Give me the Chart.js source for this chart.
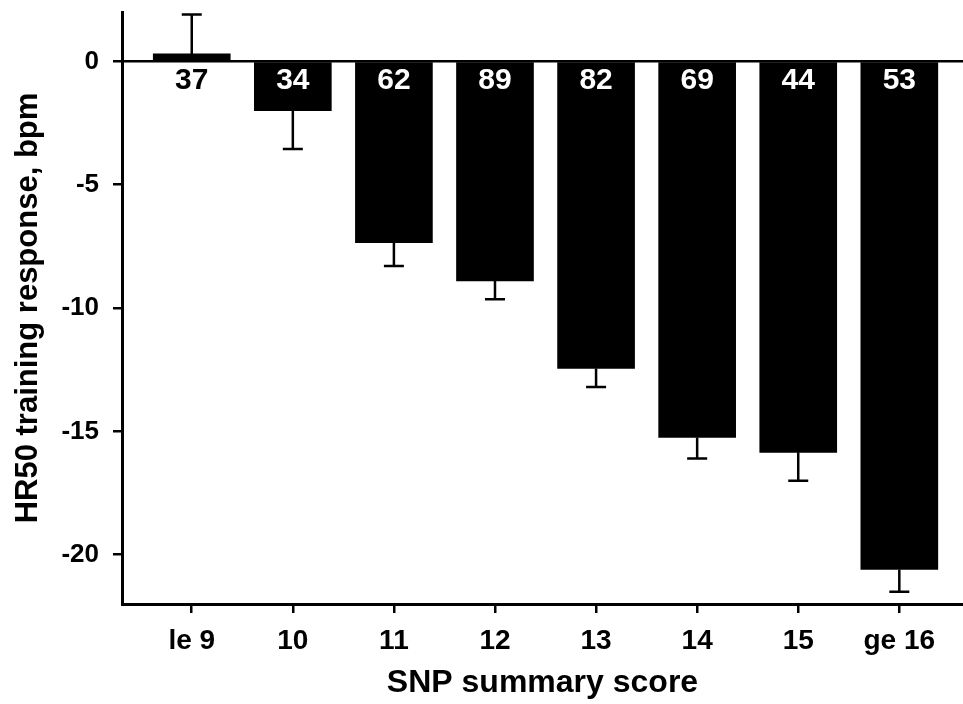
<!DOCTYPE html>
<html>
<head>
<meta charset="utf-8">
<script src="https://cdn.jsdelivr.net/npm/chart.js@4/dist/chart.umd.min.js"></script>
<style>
  html, body { margin: 0; padding: 0; background: #fff; }
  #wrap { width: 963px; height: 704px; position: relative; }
</style>
</head>
<body>
<div id="wrap"><canvas id="chart"></canvas></div>
<script>
// SNP summary score groups
const CATEGORIES = ['le 9', '10', '11', '12', '13', '14', '15', 'ge 16'];
// mean HR50 training response (bpm)
const MEANS = [0.3, -2.0, -7.35, -8.9, -12.45, -15.25, -15.85, -20.6];
// end of the one-sided error bar (mean +/- SE), in bpm
const ERR_ENDS = [1.9, -3.55, -8.3, -9.65, -13.2, -16.1, -17.0, -21.5];
// group sizes printed under the zero line
const COUNTS = [37, 34, 62, 89, 82, 69, 44, 53];
const Y_TICKS = [-20, -15, -10, -5, 0];

const FONT = '"Liberation Sans", Arial, sans-serif';

// one-sided error bars, drawn through the chart's scales
const errorBars = {
  id: 'errorBars',
  afterDatasetsDraw(chart) {
    const { ctx, scales: { x, y } } = chart;
    ctx.save();
    ctx.strokeStyle = '#000';
    ctx.lineWidth = 2.5;
    MEANS.forEach((m, i) => {
      const px = x.getPixelForValue(i);
      const y0 = y.getPixelForValue(m);
      const y1 = y.getPixelForValue(ERR_ENDS[i]);
      ctx.beginPath();
      ctx.moveTo(px, y0);
      ctx.lineTo(px, y1);
      ctx.moveTo(px - 10, y1);
      ctx.lineTo(px + 10, y1);
      ctx.stroke();
    });
    ctx.restore();
  }
};

// n labels just below zero: white on the dark bars, black where the bar is above zero
const countLabels = {
  id: 'countLabels',
  afterDatasetsDraw(chart) {
    const { ctx, scales: { x, y } } = chart;
    const base = y.getPixelForValue(0);
    ctx.save();
    ctx.font = 'bold 30px ' + FONT;
    ctx.textAlign = 'center';
    ctx.textBaseline = 'middle';
    COUNTS.forEach((n, i) => {
      ctx.fillStyle = MEANS[i] < 0 ? '#fff' : '#000';
      ctx.fillText(String(n), x.getPixelForValue(i), base + 19);
    });
    ctx.restore();
  }
};

new Chart(document.getElementById('chart'), {
  type: 'bar',
  data: {
    datasets: [{
      data: MEANS.map((v, i) => ({ x: i, y: v })),
      backgroundColor: '#000',
      borderWidth: 0,
      barThickness: 77,
    }],
  },
  options: {
    responsive: true, maintainAspectRatio: false, animation: false,
    layout: { padding: { top: 12, right: 0, left: 0, bottom: 0 } },
    plugins: { legend: { display: false }, tooltip: { enabled: false } },
    scales: {
      x: {
        type: 'linear', offset: false, min: -0.69, max: 7.63,
        afterBuildTicks: s => { s.ticks = CATEGORIES.map((c, i) => ({ value: i })); },
        afterFit: s => { s.height = 100; s.paddingLeft = 0; s.paddingRight = 0; },
        ticks: {
          callback: v => CATEGORIES[Math.round(v)],
          color: '#000', padding: 11, maxRotation: 0,
          font: { family: FONT, size: 28, weight: 'bold' },
        },
        grid: { offset: false, drawOnChartArea: false, drawTicks: true, tickLength: 9, color: '#000', lineWidth: 2.5 },
        border: { display: true, color: '#000', width: 3 },
        title: {
          display: true, text: 'SNP summary score', color: '#000',
          font: { family: FONT, size: 32, weight: 'bold' }, padding: { top: 0, bottom: 2 },
        },
      },
      y: {
        min: -22, max: 2,
        afterBuildTicks: s => { s.ticks = Y_TICKS.map(v => ({ value: v })); },
        afterFit: s => { s.width = 122; s.paddingTop = 0; s.paddingBottom = 0; },
        ticks: {
          callback: v => String(v),
          color: '#000', padding: 14,
          font: { family: FONT, size: 26, weight: 'bold' },
        },
        grid: {
          drawTicks: true, tickLength: 9,
          color: c => (c.tick && c.tick.value === 0 ? '#000' : 'rgba(0,0,0,0)'),
          tickColor: '#000', lineWidth: 2.5, tickWidth: 2.5,
        },
        border: { display: true, color: '#000', width: 3 },
        title: {
          display: true, text: 'HR50 training response, bpm', color: '#000',
          font: { family: FONT, size: 31, weight: 'bold' }, padding: { top: 10, bottom: 0 },
        },
      },
    },
  },
  plugins: [errorBars, countLabels],
});
</script>
</body>
</html>
